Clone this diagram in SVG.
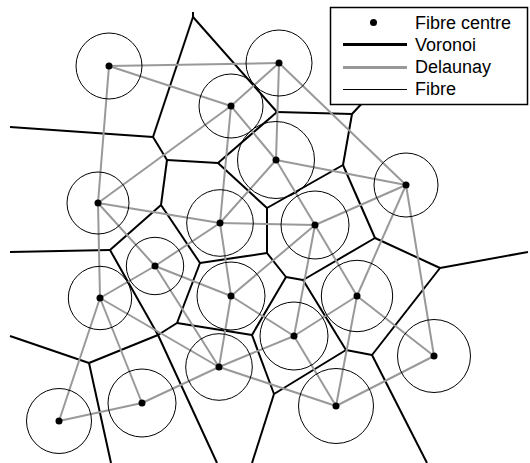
<svg xmlns="http://www.w3.org/2000/svg" width="530" height="463" viewBox="0 0 530 463">
<style>
.v{stroke:#000;stroke-width:2;fill:none;stroke-linejoin:round}
.d{stroke:#999;stroke-width:2;fill:none}
.f{fill:none;stroke:#000;stroke-width:1}
.c{fill:#000}
.t{font-family:"Liberation Sans",Arial,sans-serif;font-size:18px;fill:#000}
</style>
<rect width="530" height="463" fill="#fff"/>
<g id="connectors">
<g id="voronoi" class="v">
<line x1="193" y1="12" x2="193" y2="17"/>
<line x1="193" y1="17" x2="153" y2="137"/>
<line x1="193" y1="17" x2="277" y2="112"/>
<line x1="10" y1="127" x2="153" y2="137"/>
<line x1="153" y1="137" x2="167" y2="160"/>
<line x1="167" y1="160" x2="218" y2="163"/>
<line x1="167" y1="160" x2="161" y2="205"/>
<line x1="218" y1="163" x2="277" y2="112"/>
<line x1="218" y1="163" x2="267" y2="208"/>
<line x1="277" y1="112" x2="352" y2="114"/>
<line x1="352" y1="114" x2="368" y2="97"/>
<line x1="352" y1="114" x2="343" y2="165"/>
<line x1="343" y1="165" x2="267" y2="208"/>
<line x1="343" y1="165" x2="375" y2="238"/>
<line x1="267" y1="208" x2="267" y2="253"/>
<line x1="161" y1="205" x2="110" y2="250"/>
<line x1="161" y1="205" x2="200" y2="263"/>
<line x1="10" y1="252" x2="110" y2="250"/>
<line x1="110" y1="250" x2="158" y2="335"/>
<line x1="200" y1="263" x2="267" y2="253"/>
<line x1="200" y1="263" x2="177" y2="323"/>
<line x1="177" y1="323" x2="158" y2="335"/>
<line x1="177" y1="323" x2="252" y2="335"/>
<line x1="158" y1="335" x2="89" y2="363"/>
<line x1="158" y1="335" x2="217" y2="463"/>
<line x1="10" y1="336" x2="89" y2="363"/>
<line x1="89" y1="363" x2="111" y2="463"/>
<line x1="267" y1="253" x2="286" y2="277"/>
<line x1="286" y1="277" x2="252" y2="335"/>
<line x1="286" y1="277" x2="303" y2="280"/>
<line x1="303" y1="280" x2="375" y2="238"/>
<line x1="303" y1="280" x2="346" y2="350"/>
<line x1="375" y1="238" x2="440" y2="268"/>
<line x1="440" y1="268" x2="528" y2="252"/>
<line x1="440" y1="268" x2="372" y2="355"/>
<line x1="346" y1="350" x2="372" y2="355"/>
<line x1="346" y1="350" x2="274" y2="394"/>
<line x1="372" y1="355" x2="427" y2="463"/>
<line x1="252" y1="335" x2="274" y2="394"/>
<line x1="274" y1="394" x2="252" y2="463"/>
</g>
<g id="delaunay" class="d">
<line x1="109" y1="66" x2="279" y2="63"/>
<line x1="109" y1="66" x2="231" y2="106"/>
<line x1="109" y1="66" x2="98" y2="203"/>
<line x1="279" y1="63" x2="231" y2="106"/>
<line x1="279" y1="63" x2="276" y2="160"/>
<line x1="279" y1="63" x2="406" y2="185"/>
<line x1="231" y1="106" x2="276" y2="160"/>
<line x1="231" y1="106" x2="98" y2="203"/>
<line x1="231" y1="106" x2="220" y2="223"/>
<line x1="276" y1="160" x2="406" y2="185"/>
<line x1="276" y1="160" x2="220" y2="223"/>
<line x1="276" y1="160" x2="315" y2="225"/>
<line x1="406" y1="185" x2="315" y2="225"/>
<line x1="406" y1="185" x2="357" y2="296"/>
<line x1="406" y1="185" x2="434" y2="356"/>
<line x1="98" y1="203" x2="220" y2="223"/>
<line x1="98" y1="203" x2="155" y2="266"/>
<line x1="98" y1="203" x2="100" y2="298"/>
<line x1="220" y1="223" x2="315" y2="225"/>
<line x1="220" y1="223" x2="155" y2="266"/>
<line x1="220" y1="223" x2="231" y2="296"/>
<line x1="315" y1="225" x2="231" y2="296"/>
<line x1="315" y1="225" x2="357" y2="296"/>
<line x1="315" y1="225" x2="294" y2="336"/>
<line x1="155" y1="266" x2="100" y2="298"/>
<line x1="155" y1="266" x2="231" y2="296"/>
<line x1="155" y1="266" x2="219" y2="367"/>
<line x1="100" y1="298" x2="219" y2="367"/>
<line x1="100" y1="298" x2="142" y2="403"/>
<line x1="100" y1="298" x2="59" y2="421"/>
<line x1="231" y1="296" x2="294" y2="336"/>
<line x1="231" y1="296" x2="219" y2="367"/>
<line x1="357" y1="296" x2="294" y2="336"/>
<line x1="357" y1="296" x2="434" y2="356"/>
<line x1="357" y1="296" x2="336" y2="406"/>
<line x1="294" y1="336" x2="219" y2="367"/>
<line x1="294" y1="336" x2="336" y2="406"/>
<line x1="219" y1="367" x2="142" y2="403"/>
<line x1="219" y1="367" x2="336" y2="406"/>
<line x1="434" y1="356" x2="336" y2="406"/>
<line x1="142" y1="403" x2="59" y2="421"/>
</g>
</g>
<g id="fibres">
<g id="fA"><circle class="f" cx="109" cy="66" r="33"/><circle class="c" cx="109" cy="66" r="3.5"/></g>
<g id="fB"><circle class="f" cx="279" cy="63" r="33"/><circle class="c" cx="279" cy="63" r="3.5"/></g>
<g id="fC"><circle class="f" cx="231" cy="106" r="32"/><circle class="c" cx="231" cy="106" r="3.5"/></g>
<g id="fD"><circle class="f" cx="276" cy="160" r="38.5"/><circle class="c" cx="276" cy="160" r="3.5"/></g>
<g id="fE"><circle class="f" cx="406" cy="185" r="32"/><circle class="c" cx="406" cy="185" r="3.5"/></g>
<g id="fF"><circle class="f" cx="98" cy="203" r="31"/><circle class="c" cx="98" cy="203" r="3.5"/></g>
<g id="fG"><circle class="f" cx="220" cy="223" r="33.3"/><circle class="c" cx="220" cy="223" r="3.5"/></g>
<g id="fH"><circle class="f" cx="315" cy="225" r="34"/><circle class="c" cx="315" cy="225" r="3.5"/></g>
<g id="fI"><circle class="f" cx="155" cy="266" r="28.7"/><circle class="c" cx="155" cy="266" r="3.5"/></g>
<g id="fJ"><circle class="f" cx="100" cy="298" r="31.7"/><circle class="c" cx="100" cy="298" r="3.5"/></g>
<g id="fK"><circle class="f" cx="231" cy="296" r="34"/><circle class="c" cx="231" cy="296" r="3.5"/></g>
<g id="fL"><circle class="f" cx="357" cy="296" r="35.7"/><circle class="c" cx="357" cy="296" r="3.5"/></g>
<g id="fM"><circle class="f" cx="294" cy="336" r="34"/><circle class="c" cx="294" cy="336" r="3.5"/></g>
<g id="fN"><circle class="f" cx="219" cy="367" r="33.3"/><circle class="c" cx="219" cy="367" r="3.5"/></g>
<g id="fO"><circle class="f" cx="434" cy="356" r="36.5"/><circle class="c" cx="434" cy="356" r="3.5"/></g>
<g id="fP"><circle class="f" cx="142" cy="403" r="34"/><circle class="c" cx="142" cy="403" r="3.5"/></g>
<g id="fQ"><circle class="f" cx="336" cy="406" r="37.5"/><circle class="c" cx="336" cy="406" r="3.5"/></g>
<g id="fR"><circle class="f" cx="59" cy="421" r="32.5"/><circle class="c" cx="59" cy="421" r="3.5"/></g>
</g>
<g id="legend">
<rect x="330.5" y="7.5" width="197" height="97" fill="#fff" stroke="#000" stroke-width="1.5"/>
<circle class="c" cx="373.5" cy="22.5" r="3.5"/>
<line x1="343" y1="44.5" x2="407" y2="44.5" stroke="#000" stroke-width="3"/>
<line x1="343" y1="67.5" x2="407" y2="67.5" stroke="#999" stroke-width="3"/>
<line x1="343" y1="89.5" x2="407" y2="89.5" stroke="#000" stroke-width="1"/>
<text class="t" x="415" y="28.5">Fibre centre</text>
<text class="t" x="415" y="50.5">Voronoi</text>
<text class="t" x="415" y="72.5">Delaunay</text>
<text class="t" x="415" y="95">Fibre</text>
</g>
</svg>
